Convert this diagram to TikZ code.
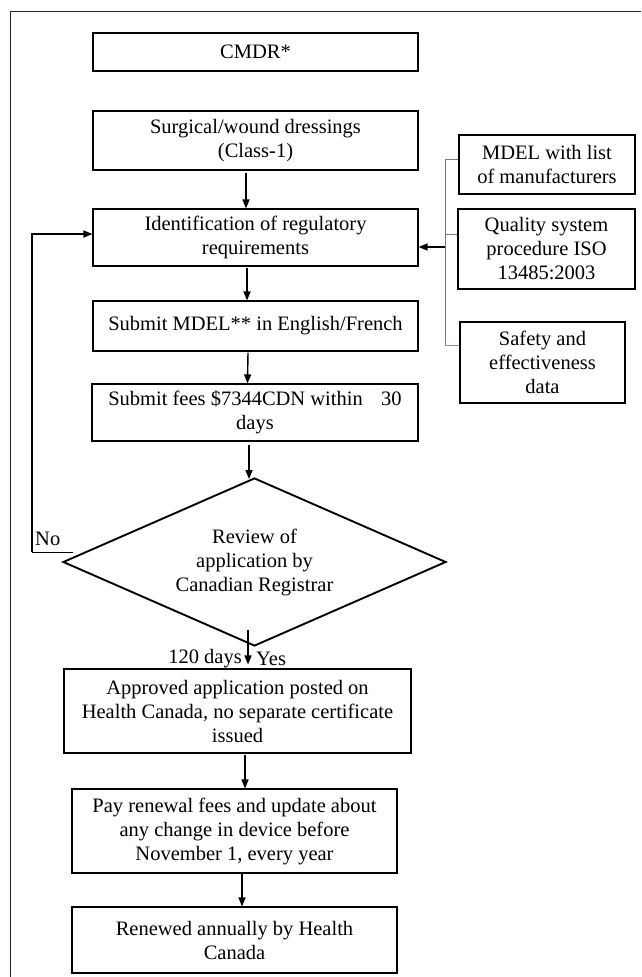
\documentclass[tikz,border=0pt]{standalone}
\usepackage{fontspec}
\setmainfont{Liberation Serif}
\usetikzlibrary{shapes.geometric,arrows.meta}
\definecolor{brkgray}{RGB}{120,120,120}
\definecolor{brkred}{RGB}{210,120,120}
\begin{document}
\begin{tikzpicture}[x=1pt,y=-1pt,
  txt/.style={font=\fontsize{20.5}{24}\selectfont},
  box/.style={txt, draw=black, line width=1.1pt, align=center, inner sep=0pt},
  decision/.style={txt, draw=black, line width=1.9pt, diamond, shape aspect=2.28,
    align=center, inner sep=0pt},
  flow/.style={line width=1.4pt, -{Triangle[length=9pt,width=7pt]}},
  bracket/.style={line width=0.9pt, draw=brkgray}
]
\useasboundingbox (0,0) rectangle (641,977);

% page frame
\draw[line width=1pt, black!85] (10,977) -- (10,11) -- (641,11);

% main column
\node[box, minimum width=325pt, minimum height=38pt] (cmdr) at (255.5,52) {CMDR*};
\node[box, minimum width=325pt, minimum height=59pt] (surg) at (255.5,140.5)
  {Surgical/wound dressings\\(Class-1)};
\node[box, minimum width=325pt, minimum height=57pt] (ident) at (255.5,237.5)
  {Identification of regulatory\\requirements};
\node[box, minimum width=325pt, minimum height=50pt] (mdel) at (255.5,326)
  {Submit MDEL** in English/French};
\node[box, minimum width=326pt, minimum height=57pt] (fees) at (255,412.5)
  {Submit fees \$7344CDN within\hspace{0.9em}30\\days};
\node[decision, minimum width=383pt, minimum height=168pt] (dia) at (254.5,562)
  {Review of\\application by\\Canadian Registrar};
\node[box, minimum width=347pt, minimum height=84pt] (appr) at (237.5,711)
  {Approved application posted on\\Health Canada, no separate certificate\\issued};
\node[box, minimum width=325pt, minimum height=84pt] (pay) at (234.5,831)
  {Pay renewal fees and update about\\any change in device before\\November 1, every year};
\node[box, minimum width=325pt, minimum height=66pt] (renew) at (234.5,940)
  {Renewed annually by Health\\Canada};

% requirement boxes
\node[box, minimum width=176pt, minimum height=59pt] (req1) at (547,164.5)
  {MDEL with list\\of manufacturers};
\node[box, minimum width=177pt, minimum height=80pt] (req2) at (546.5,249)
  {Quality system\\procedure ISO\\13485:2003};
\node[box, minimum width=165pt, minimum height=81pt] (req3) at (542.5,362.5)
  {Safety and\\effectiveness\\data};

% vertical flow
\draw[flow] ([xshift=-9.5pt,yshift=-2pt]surg.south) -- ([xshift=-9.5pt]ident.north);
\draw[flow] ([xshift=-8.5pt,yshift=-1pt]ident.south) -- ([xshift=-8.5pt]mdel.north);
\draw[flow] ([xshift=-7.5pt,yshift=-1pt]mdel.south) -- ([xshift=-7.5pt]fees.north);
\draw[flow] ([xshift=-6pt,yshift=-3pt]fees.south) -- ([xshift=-5.5pt,yshift=-2pt]dia.north);
\draw[flow] ([xshift=-6.5pt,yshift=17pt]dia.south) -- ([xshift=10.5pt,yshift=4pt]appr.north);
\draw[flow] ([xshift=7.5pt,yshift=-1pt]appr.south) -- ([xshift=10.5pt]pay.north);
\draw[flow] ([xshift=7.5pt]pay.south) -- ([xshift=7.5pt]renew.north);

\node[txt, anchor=east, inner sep=0pt] (days) at (242,659) {120 days};
\node[txt, anchor=west, inner sep=0pt] (yes) at (256,659) {Yes};

% requirements bracket feeding the identification step
\coordinate (btop) at (445,159);
\coordinate (bmid) at (445,247);
\coordinate (bbot) at (445,345);
\draw[bracket] (btop) -- (bbot);
\draw[bracket] (btop) -- ([yshift=5.5pt]req1.west);
\draw[bracket] (445,234) -- ([yshift=15pt]req2.west);
\draw[line width=0.9pt, draw=brkred] (bbot) -- ([yshift=17.5pt]req3.west);
\draw[flow] (bmid) -- ([yshift=-9.5pt]ident.east);

% "No" loop back to identification
\node[txt, anchor=west, inner sep=0pt] (no) at (35,539) {No};
\coordinate (nofoot) at (73,552);
\coordinate (nocorner) at (32,552);
\coordinate (noup) at (32,234);
\draw[line width=1pt] (nofoot) -- (nocorner);
\draw[flow] (nocorner) -- (noup) -- ([yshift=3.5pt]ident.west);
\end{tikzpicture}
\end{document}
